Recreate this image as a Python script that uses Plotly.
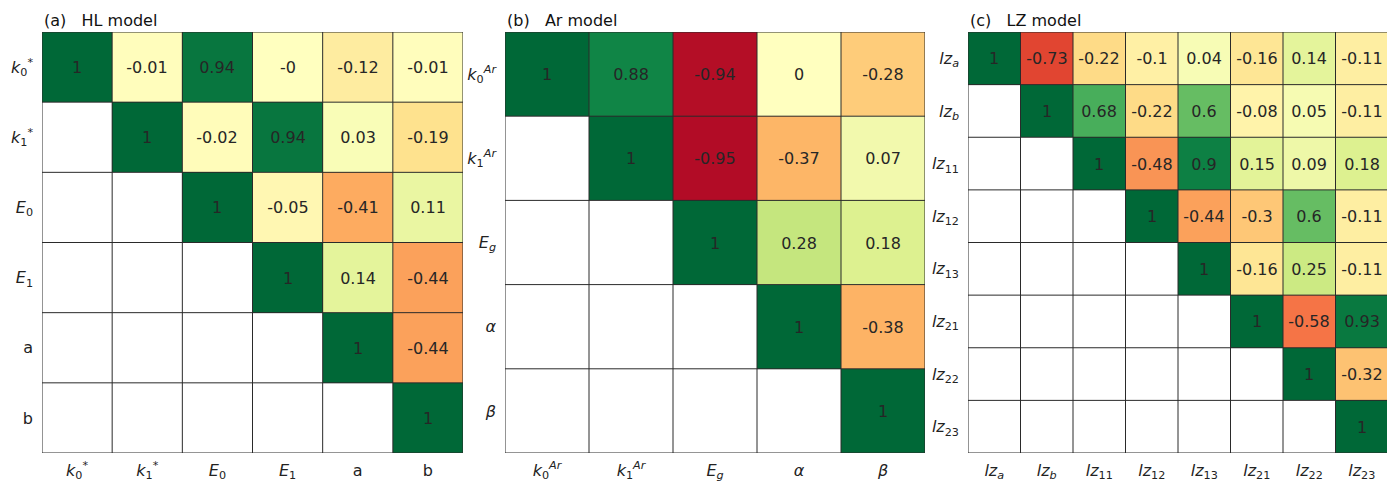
import numpy as np
import plotly.graph_objects as go

# ---------------- data ----------------
hl_labels = ["<i>k</i><sub>0</sub><sup>*</sup>", "<i>k</i><sub>1</sub><sup>*</sup>",
             "<i>E</i><sub>0</sub>", "<i>E</i><sub>1</sub>", "a", "b"]
hl_rows = [
    ["1", "-0.01", "0.94", "-0", "-0.12", "-0.01"],
    [None, "1", "-0.02", "0.94", "0.03", "-0.19"],
    [None, None, "1", "-0.05", "-0.41", "0.11"],
    [None, None, None, "1", "0.14", "-0.44"],
    [None, None, None, None, "1", "-0.44"],
    [None, None, None, None, None, "1"],
]

ar_labels = ["<i>k</i><sub>0</sub><sup><i>Ar</i></sup>", "<i>k</i><sub>1</sub><sup><i>Ar</i></sup>",
             "<i>E</i><sub><i>g</i></sub>", "<i>α</i>", "<i>β</i>"]
ar_rows = [
    ["1", "0.88", "-0.94", "0", "-0.28"],
    [None, "1", "-0.95", "-0.37", "0.07"],
    [None, None, "1", "0.28", "0.18"],
    [None, None, None, "1", "-0.38"],
    [None, None, None, None, "1"],
]

lz_labels = ["<i>lz</i><sub><i>a</i></sub>", "<i>lz</i><sub><i>b</i></sub>",
             "<i>lz</i><sub>11</sub>", "<i>lz</i><sub>12</sub>", "<i>lz</i><sub>13</sub>",
             "<i>lz</i><sub>21</sub>", "<i>lz</i><sub>22</sub>", "<i>lz</i><sub>23</sub>"]
lz_rows = [
    ["1", "-0.73", "-0.22", "-0.1", "0.04", "-0.16", "0.14", "-0.11"],
    [None, "1", "0.68", "-0.22", "0.6", "-0.08", "0.05", "-0.11"],
    [None, None, "1", "-0.48", "0.9", "0.15", "0.09", "0.18"],
    [None, None, None, "1", "-0.44", "-0.3", "0.6", "-0.11"],
    [None, None, None, None, "1", "-0.16", "0.25", "-0.11"],
    [None, None, None, None, None, "1", "-0.58", "0.93"],
    [None, None, None, None, None, None, "1", "-0.32"],
    [None, None, None, None, None, None, None, "1"],
]

titles = ["(a)\u00a0\u00a0\u00a0HL model", "(b)\u00a0\u00a0\u00a0Ar model", "(c)\u00a0\u00a0\u00a0LZ model"]

# ---------------- layout geometry ----------------
OFF = 8  # default page body margin
W, H = 1395 - OFF, 487 - OFF
x_px = [(42, 463), (505, 925), (968, 1388)]
x_domains = [((a - OFF) / W, (b - OFF) / W) for a, b in x_px]
y_top, y_bot = 32 - OFF, 453 - OFF
ydom = [(H - y_bot) / H, (H - y_top) / H]

FONT = "DejaVu Sans"
fig = go.Figure()

panels = [(hl_labels, hl_rows), (ar_labels, ar_rows), (lz_labels, lz_rows)]
shapes = []
annotations = []
for i, (labels, rows) in enumerate(panels):
    n = len(labels)
    z = [[float(v) if v is not None else None for v in r] for r in rows]
    txt = [[v if v is not None else "" for v in r] for r in rows]
    sfx = "" if i == 0 else str(i + 1)
    fig.add_trace(go.Heatmap(
        z=z, x=list(range(n)), y=list(range(n)), text=txt,
        texttemplate="%{text}", textfont=dict(family=FONT, size=16, color="#262626"),
        colorscale="RdYlGn", zmin=-1, zmax=1, showscale=False,
        hoverongaps=False, xaxis="x" + sfx, yaxis="y" + sfx,
    ))
    ax = dict(domain=list(x_domains[i]),
              range=[-0.5, n - 0.5], tickvals=list(range(n)), ticktext=labels,
              showgrid=False, zeroline=False, ticks="", ticklabelstandoff=6,
              tickfont=dict(family=FONT, size=16, color="#222"), anchor="y" + sfx)
    ay = dict(domain=ydom, range=[n - 0.5, -0.5], tickvals=list(range(n)), ticktext=labels,
              showgrid=False, zeroline=False, ticks="", ticklabelstandoff=8,
              tickfont=dict(family=FONT, size=16, color="#222"), anchor="x" + sfx)
    fig.layout["xaxis" + sfx] = ax
    fig.layout["yaxis" + sfx] = ay
    for k in range(n + 1):
        shapes.append(dict(type="line", xref="x" + sfx, yref="y" + sfx,
                           x0=k - 0.5, x1=k - 0.5, y0=-0.5, y1=n - 0.5,
                           line=dict(color="#2a2a2a", width=1), layer="above"))
        shapes.append(dict(type="line", xref="x" + sfx, yref="y" + sfx,
                           x0=-0.5, x1=n - 0.5, y0=k - 0.5, y1=k - 0.5,
                           line=dict(color="#2a2a2a", width=1), layer="above"))
    annotations.append(dict(text=titles[i], xref="paper", yref="paper",
                            x=x_domains[i][0], y=1 - (20 - OFF) / H, xanchor="left", yanchor="middle",
                            showarrow=False, font=dict(family=FONT, size=16, color="#111")))

fig.update_layout(width=W, height=H, margin=dict(l=0, r=0, t=0, b=0),
                  paper_bgcolor="white", plot_bgcolor="white",
                  shapes=shapes, annotations=annotations,
                  font=dict(family=FONT))
fig.write_html("out.html")
